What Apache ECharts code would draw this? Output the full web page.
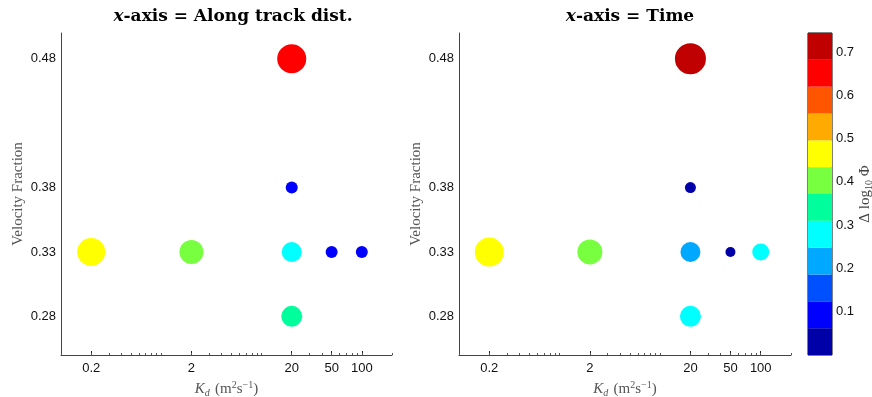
<!DOCTYPE html>
<html>
<head>
<meta charset="utf-8">
<script src="https://cdn.jsdelivr.net/npm/echarts@6/dist/echarts.min.js"></script>
<style>html,body{margin:0;padding:0;background:#fff}#c{width:872px;height:397px}</style>
</head>
<body>
<div id="c"></div>
<script>
// ---- data ----
const kd = [0.2, 2, 20, 50, 100, 20, 20, 20];
const velFrac = [0.33, 0.33, 0.33, 0.33, 0.33, 0.48, 0.38, 0.28];
const deltaAlongTrack = [0.46, 0.40, 0.28, 0.09, 0.09, 0.65, 0.09, 0.34];
const deltaTime = [0.46, 0.40, 0.22, 0.03, 0.28, 0.71, 0.03, 0.29];
const markerAlongTrack = [28, 24, 20, 12, 12, 29, 12, 21];
const markerTime = [29, 25, 20, 10, 17, 31, 11, 21];
const xTickLabels = [0.2, 2, 20, 50, 100];
const xMinorTicks = [0.1,0.2,0.3,0.4,0.5,0.6,0.7,0.8,0.9,1,2,3,4,5,6,7,8,9,10,20,30,40,50,60,70,80,90,100,200];
const yTickLabels = [0.28, 0.33, 0.38, 0.48];
const cbTicks = [0.1, 0.2, 0.3, 0.4, 0.5, 0.6, 0.7];
const cbMax = 0.744;
const cbColors = ['#0000A8','#0000FF','#0050FF','#00A8FF','#00FFFF','#00FF9C','#78FF40','#FFFF00','#FFAA00','#FF5500','#FF0000','#C00000'];
const titles = ['Along track dist.', 'Time'];

// ---- build ----
const bandW = cbMax / cbColors.length;
const pieces = cbColors.map((c, i) => ({ gte: i * bandW, lt: (i + 1) * bandW + (i === cbColors.length - 1 ? 1 : 0), color: c }));
const grids = [
  { left: 61, top: 33, width: 331, height: 322, outerBoundsMode: 'none', containLabel: false },
  { left: 459, top: 33, width: 332, height: 322, outerBoundsMode: 'none', containLabel: false },
  { left: 808, top: 33, width: 24, height: 322, outerBoundsMode: 'none', containLabel: false, show: true, borderColor: '#000', borderWidth: 1, backgroundColor: 'transparent' }
];
const sans = 'Liberation Sans, Arial, sans-serif';
const serif = 'Liberation Serif, Times New Roman, serif';
const xName = '{it|K}{sub|d} {rm|(m}{sup|2}{rm|s}{sup|\u22121}{rm|)}';
const nameRich = {
  it: { fontFamily: serif, fontStyle: 'italic', fontSize: 15, color: '#555', lineHeight: 18 },
  rm: { fontFamily: serif, fontSize: 15, color: '#555', lineHeight: 18 },
  sub: { fontFamily: serif, fontStyle: 'italic', fontSize: 10, color: '#555', verticalAlign: 'bottom', lineHeight: 12, padding: [6, 2, 0, 0] },
  sup: { fontFamily: serif, fontSize: 10, color: '#555', verticalAlign: 'top', lineHeight: 12, padding: [0, 0, 6, 0] }
};
const xAxes = [], yAxes = [];
[0, 1].forEach(g => {
  xAxes.push({
    type: 'log', logBase: 10, gridIndex: g, min: 0.1, max: 200, position: 'bottom',
    axisLine: { show: true, onZero: false, lineStyle: { color: '#444', width: 1 } },
    axisTick: { show: true, inside: true, length: 4, customValues: xTickLabels, lineStyle: { color: '#222' } },
    axisLabel: { customValues: xTickLabels, formatter: v => String(+(+v).toPrecision(3)), fontSize: 13, color: '#111', fontFamily: sans, margin: 7 },
    splitLine: { show: false }, minorTick: { show: false },
    name: xName, nameLocation: 'middle', nameGap: 21, nameTextStyle: { rich: nameRich }
  });
  xAxes.push({
    type: 'log', logBase: 10, gridIndex: g, min: 0.1, max: 200, position: 'bottom',
    axisLine: { show: false, onZero: false },
    axisTick: { show: true, inside: true, length: 2, customValues: xMinorTicks, lineStyle: { color: '#555' } },
    axisLabel: { show: false }, splitLine: { show: false }
  });
  yAxes.push({
    type: 'value', gridIndex: g, min: 0.25, max: 0.5, position: 'left',
    axisLine: { show: true, lineStyle: { color: '#444', width: 1 } },
    axisTick: { show: false },
    axisLabel: { customValues: yTickLabels, formatter: v => (+v).toFixed(2), fontSize: 13, color: '#111', fontFamily: sans, margin: 5 },
    splitLine: { show: false },
    name: 'Velocity Fraction', nameLocation: 'middle', nameGap: 35,
    nameTextStyle: { fontFamily: serif, fontSize: 15, color: '#555' }
  });
});
// colorbar axes
xAxes.push({ type: 'category', gridIndex: 2, data: ['cb'], show: false, boundaryGap: true });
yAxes.push({
  type: 'value', gridIndex: 2, min: 0, max: cbMax, position: 'right',
  axisLine: { show: false }, splitLine: { show: false },
  axisTick: { show: true, inside: true, length: 3, customValues: cbTicks, lineStyle: { color: '#000' } },
  axisLabel: { customValues: cbTicks, formatter: v => (+v).toFixed(1), fontSize: 13, color: '#111', fontFamily: sans, margin: 4 },
  name: '{rm|\u0394 log}{sub|10}{rm| \u03A6}', nameLocation: 'middle', nameGap: 24, nameRotate: 90,
  nameTextStyle: { rich: {
    rm: { fontFamily: serif, fontSize: 15, color: '#444', lineHeight: 18 },
    sub: { fontFamily: serif, fontSize: 10, color: '#444', verticalAlign: 'bottom', lineHeight: 12, padding: [6, 0, 0, 0] }
  } }
});
yAxes.push({
  type: 'value', gridIndex: 2, min: 0, max: cbMax, position: 'left',
  axisLine: { show: false }, splitLine: { show: false },
  axisTick: { show: true, inside: true, length: 3, customValues: cbTicks, lineStyle: { color: '#000' } },
  axisLabel: { show: false }
});

const mk = (deltas, sizes) => kd.map((x, i) => [x, velFrac[i], deltas[i], sizes[i]]);
const series = [
  { type: 'scatter', xAxisIndex: 0, yAxisIndex: 0, data: mk(deltaAlongTrack, markerAlongTrack), symbolSize: v => v[3], itemStyle: { opacity: 1 } },
  { type: 'scatter', xAxisIndex: 2, yAxisIndex: 1, data: mk(deltaTime, markerTime), symbolSize: v => v[3], itemStyle: { opacity: 1 } }
];
cbColors.forEach(c => series.push({
  type: 'bar', xAxisIndex: 4, yAxisIndex: 2, stack: 'cb', data: [bandW], barWidth: '100%',
  itemStyle: { color: c }, silent: true
}));

const titleRich = {
  i: { fontFamily: 'DejaVu Serif, serif', fontStyle: 'italic', fontSize: 17, color: '#000' },
  b: { fontFamily: 'DejaVu Serif, serif', fontWeight: 'bold', fontSize: 17, color: '#000' }
};
const chart = echarts.init(document.getElementById('c'), null, { renderer: 'canvas' });
chart.setOption({
  backgroundColor: '#fff',
  animation: false,
  title: [
    { text: '{i|x}{b|-axis = ' + titles[0] + '}', left: 228, top: 3, textAlign: 'center', textStyle: { rich: titleRich } },
    { text: '{i|x}{b|-axis = ' + titles[1] + '}', left: 625, top: 3, textAlign: 'center', textStyle: { rich: titleRich } }
  ],
  grid: grids,
  xAxis: xAxes,
  yAxis: yAxes,
  visualMap: { type: 'piecewise', show: false, dimension: 2, seriesIndex: [0, 1], pieces: pieces },
  series: series
});
</script>
</body>
</html>
